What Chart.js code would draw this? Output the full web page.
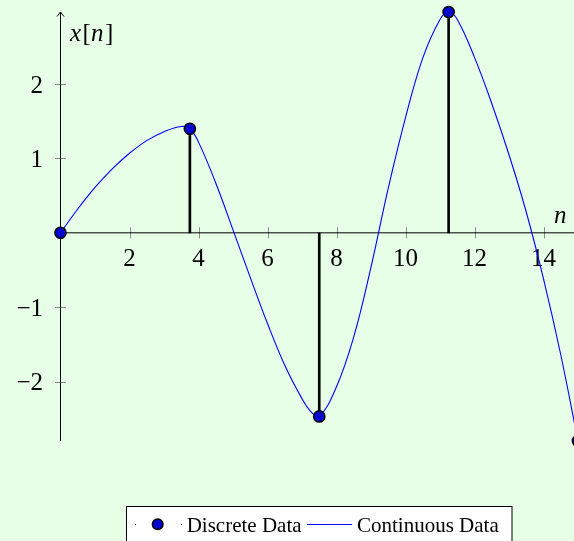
<!DOCTYPE html>
<html>
<head>
<meta charset="utf-8">
<script src="https://cdn.jsdelivr.net/npm/chart.js@4"></script>
<style>
  html, body { margin: 0; padding: 0; overflow: hidden; background: #e6ffe6; }
  canvas { display: block; }
</style>
</head>
<body>
<canvas id="chart" width="600" height="541"></canvas>
<script>
// Tick labels
const xTicks = [2, 4, 6, 8, 10, 12, 14];
const yTicks = [-2, -1, 1, 2];

// Sampled sequence x[n]
const discreteN = [0, 3.75, 7.5, 11.25, 15];
const discreteX = [0, 1.40, -2.47, 2.97, -2.80];

// Underlying continuous signal
const curveN = [0, 0.5, 1, 1.5, 2, 2.5, 3, 3.5, 3.75, 4, 4.5, 5, 5.5, 6, 6.5, 7, 7.25, 7.5,
                8, 8.5, 9, 9.5, 10, 10.5, 11, 11.25, 11.5, 12, 12.5, 13, 13.5, 14, 14.5, 15];
const curveX = [0, 0.32, 0.61, 0.86, 1.07, 1.24, 1.36, 1.43, 1.40, 1.22, 0.67, 0.04, -0.60, -1.22, -1.78, -2.23, -2.40, -2.47,
                -2.07, -1.40, -0.46, 0.60, 1.55, 2.35, 2.87, 2.97, 2.87, 2.36, 1.74, 1.05, 0.28, -0.62, -1.64, -2.80];

const BG = '#e6ffe6';
const SERIF = '"Liberation Serif", "DejaVu Serif", serif';

function toPoints(xs, ys) {
    return xs.map((v, i) => ({ x: v, y: ys[i] }));
}

// Axis lines through the origin, ticks, labels and the legend box
const axesPlugin = {
    id: 'middleAxes',
    beforeDraw(chart) {
        const ctx = chart.ctx;
        ctx.save();
        ctx.fillStyle = BG;
        ctx.fillRect(0, 0, chart.width, chart.height);
        ctx.restore();
    },
    beforeDatasetsDraw(chart) {
        const { ctx, scales: { x, y } } = chart;
        const x0 = x.getPixelForValue(0);
        const y0 = y.getPixelForValue(0);
        ctx.save();

        // ticks
        ctx.strokeStyle = '#8a8a8a';
        ctx.lineWidth = 1;
        ctx.beginPath();
        xTicks.forEach(t => {
            const px = Math.round(x.getPixelForValue(t)) + 0.5;
            ctx.moveTo(px, y0 - 5.5);
            ctx.lineTo(px, y0 + 5.5);
        });
        yTicks.forEach(t => {
            const py = Math.round(y.getPixelForValue(t)) + 0.5;
            ctx.moveTo(x0 - 5.5, py);
            ctx.lineTo(x0 + 5.5, py);
        });
        ctx.stroke();

        // axis lines
        ctx.strokeStyle = '#000';
        ctx.lineWidth = 1;
        ctx.beginPath();
        ctx.moveTo(x.left, y0);
        ctx.lineTo(x.right + 10, y0);
        ctx.moveTo(x0, y.bottom);
        ctx.lineTo(x0, y.top);
        ctx.stroke();

        // arrow heads
        ctx.beginPath();
        ctx.moveTo(x0 - 3.5, y.top + 4.5);
        ctx.lineTo(x0, y.top);
        ctx.lineTo(x0 + 3.5, y.top + 4.5);
        ctx.moveTo(x.right + 5.5, y0 - 3.5);
        ctx.lineTo(x.right + 10, y0);
        ctx.lineTo(x.right + 5.5, y0 + 3.5);
        ctx.stroke();

        // tick labels
        ctx.fillStyle = '#000';
        ctx.font = '25px ' + SERIF;
        ctx.textBaseline = 'alphabetic';
        ctx.textAlign = 'center';
        xTicks.forEach(t => {
            ctx.fillText(String(t), x.getPixelForValue(t), y0 + 32.7);
        });
        ctx.textAlign = 'right';
        yTicks.forEach(t => {
            const txt = t < 0 ? '\u2212' + Math.abs(t) : String(t);
            ctx.fillText(txt, x0 - 17.5, y.getPixelForValue(t) + 8.7);
        });

        // axis labels
        ctx.textAlign = 'left';
        let cx = 70;
        const parts = [['x', true], ['[', false], ['n', true], [']', false]];
        parts.forEach(([s, it]) => {
            ctx.font = (it ? 'italic ' : '') + '25px ' + SERIF;
            ctx.fillText(s, cx, 41);
            cx += ctx.measureText(s).width + (it ? 1.5 : 0);
        });
        ctx.font = 'italic 25px ' + SERIF;
        ctx.fillText('n', 554, y0 - 9.8);
        ctx.restore();
    },
    afterDraw(chart) {
        const ctx = chart.ctx;
        const ds = chart.data.datasets;
        ctx.save();
        ctx.fillStyle = '#fff';
        ctx.fillRect(126, 506, 386, 60);
        ctx.strokeStyle = '#000';
        ctx.lineWidth = 1;
        ctx.strokeRect(126.5, 506.5, 385.5, 60);

        // discrete entry
        ctx.fillStyle = '#333';
        ctx.fillRect(135, 524, 1, 1);
        ctx.fillRect(181, 524, 1, 1);
        ctx.beginPath();
        ctx.arc(157.7, 524.3, 5.3, 0, Math.PI * 2);
        ctx.fillStyle = ds[0].backgroundColor;
        ctx.fill();
        ctx.lineWidth = 1.5;
        ctx.strokeStyle = '#000';
        ctx.stroke();

        // continuous entry
        ctx.beginPath();
        ctx.moveTo(307, 524.5);
        ctx.lineTo(352, 524.5);
        ctx.lineWidth = 1;
        ctx.strokeStyle = ds[1].borderColor;
        ctx.stroke();

        ctx.fillStyle = '#000';
        ctx.font = '21px ' + SERIF;
        ctx.textAlign = 'left';
        ctx.textBaseline = 'alphabetic';
        ctx.fillText(ds[0].label, 186.7, 531.5);
        ctx.fillText(ds[1].label, 357, 531.5);
        ctx.restore();
    }
};

const ctx = document.getElementById('chart').getContext('2d');
new Chart(ctx, {
    type: 'scatter',
    data: {
        datasets: [
            {
                type: 'scatter',
                label: 'Discrete Data',
                data: toPoints(discreteN, discreteX),
                backgroundColor: '#0000d0',
                borderColor: '#000',
                borderWidth: 1.5,
                pointRadius: 5.6,
                clip: false,
                order: 0
            },
            {
                type: 'line',
                label: 'Continuous Data',
                data: toPoints(curveN, curveX),
                borderColor: '#0000ff',
                borderWidth: 1.1,
                pointRadius: 0,
                fill: false,
                tension: 0.4,
                clip: false,
                order: 1
            },
            {
                type: 'bar',
                label: 'stems',
                data: toPoints(discreteN, discreteX),
                backgroundColor: '#000',
                borderWidth: 0,
                barThickness: 2,
                grouped: false,
                order: 2
            }
        ]
    },
    options: {
        responsive: false,
        animation: false,
        events: [],
        layout: {
            padding: { left: 60.5, right: 22, top: 12, bottom: 100 }
        },
        plugins: {
            legend: { display: false },
            tooltip: { enabled: false }
        },
        scales: {
            x: {
                type: 'linear',
                min: 0,
                max: 15,
                offset: false,
                display: false
            },
            y: {
                type: 'linear',
                min: -2.8,
                max: 2.97,
                display: false
            }
        }
    },
    plugins: [axesPlugin]
});
</script>
</body>
</html>
